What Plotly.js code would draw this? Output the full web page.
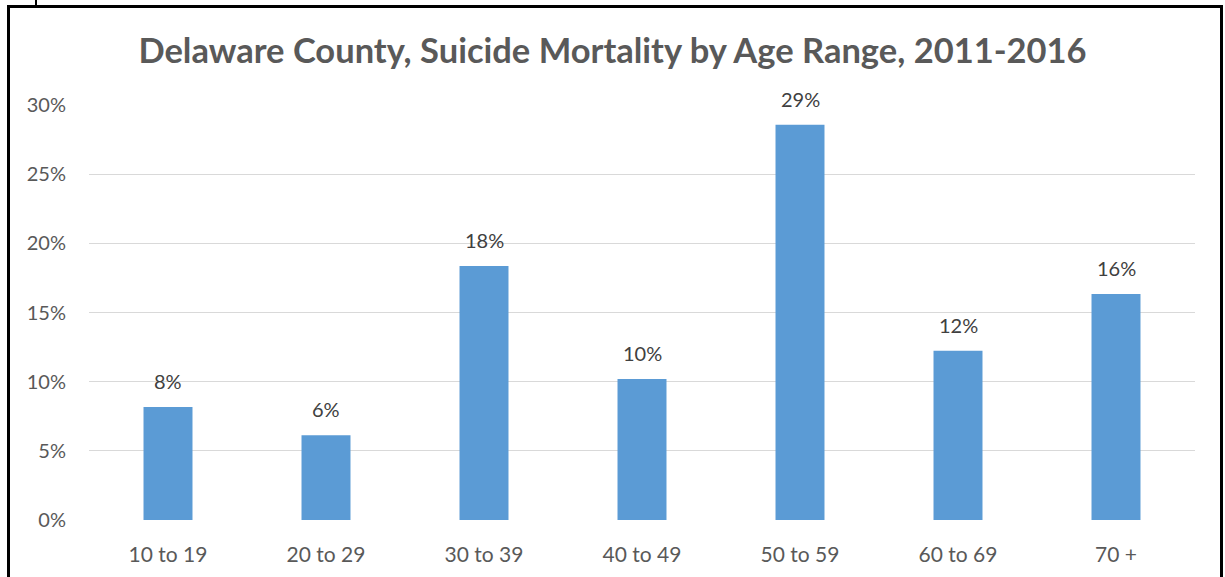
<!DOCTYPE html>
<html><head><meta charset="utf-8">
<script src="https://cdn.plot.ly/plotly-3.0.1.min.js"></script>
<style>
body{margin:0;padding:0;background:#fff;overflow:hidden}
#chart{width:1225px;height:577px;position:absolute;left:0;top:0}
#frame{position:absolute;left:7px;top:5px;width:1210px;height:600px;border:3px solid #000;pointer-events:none}
#mark{position:absolute;left:35px;top:0;width:2px;height:5px;background:#000}
</style></head>
<body>
<div id="chart"></div>
<div id="frame"></div>
<div id="mark"></div>
<script>
const categories = ["10 to 19","20 to 29","30 to 39","40 to 49","50 to 59","60 to 69","70 +"];
const values = [8.16, 6.12, 18.37, 10.20, 28.57, 12.24, 16.33];
const labels = ["8%","6%","18%","10%","29%","12%","16%"];
const yTickVals = [0,5,10,15,20,25,30];
const yTickText = ["0%","5%","10%","15%","20%","25%","30%"];

const FONT = "Lato, 'Open Sans', sans-serif";
const trace = {
  type:'bar', x:categories, y:values,
  marker:{color:'#5b9bd5'}, hoverinfo:'none'
};
const annotations = categories.map((c,i)=>({
  x:c, y:values[i], text:labels[i], xref:'x', yref:'y',
  yanchor:'bottom', showarrow:false, yshift:12,
  font:{family:FONT,size:20,color:'#404040'}
}));
const layout = {
  width:1225, height:577,
  margin:{l:89,r:30,t:105,b:57},
  paper_bgcolor:'#fff', plot_bgcolor:'#fff',
  bargap:0.69,
  showlegend:false,
  title:{text:'<b>Delaware County, Suicide Mortality by Age Range, 2011-2016</b>',
    x:0.5, xanchor:'center', y:0.912, yanchor:'middle',
    font:{family:FONT,size:34.5,color:'#595959'}},
  xaxis:{type:'category', showgrid:false, zeroline:false, showline:false,
    ticks:'outside', ticklen:16, tickcolor:'rgba(0,0,0,0)',
    tickfont:{family:FONT,size:21,color:'#595959'}},
  yaxis:{range:[0,30], tickvals:yTickVals, ticktext:yTickText,
    showgrid:true, gridcolor:'#d9d9d9', gridwidth:1.3, zeroline:false, showline:false,
    ticks:'outside', ticklen:18, tickcolor:'rgba(0,0,0,0)',
    tickfont:{family:FONT,size:20,color:'#595959'}},
  annotations:annotations
};
Plotly.newPlot('chart',[trace],layout,{displayModeBar:false,staticPlot:true});
</script>
</body></html>
